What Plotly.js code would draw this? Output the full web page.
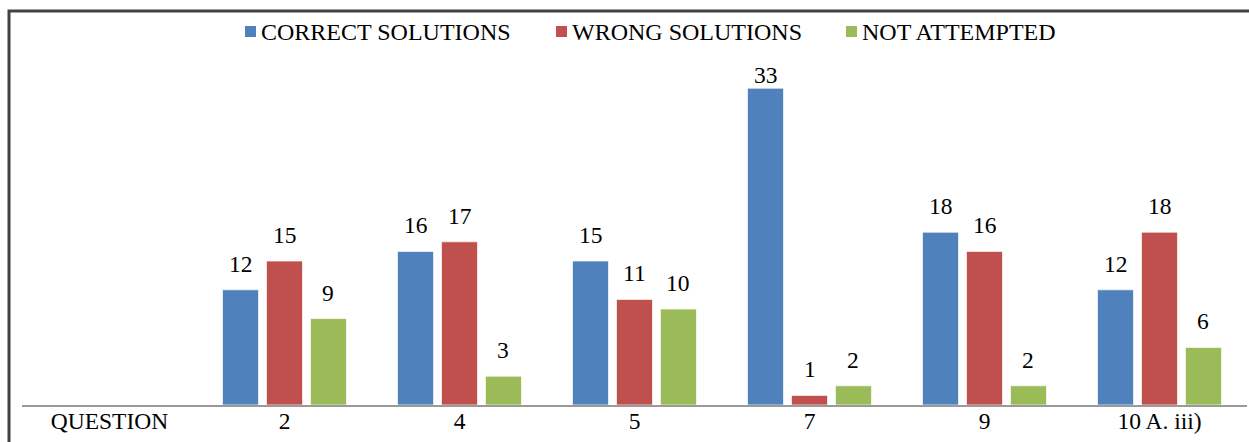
<!DOCTYPE html>
<html>
<head>
<meta charset="utf-8">
<script src="https://cdn.plot.ly/plotly-3.0.1.min.js"></script>
<style>
  html, body { margin: 0; padding: 0; background: #ffffff; }
  #chart { width: 1249px; height: 442px; }
</style>
</head>
<body>
<div id="chart"></div>
<script>
// Question categories (the first slot is the row header and carries no bars)
const axisHeader = 'QUESTION';
const questions = ['2', '4', '5', '7', '9', '10 A. iii)'];

// Number of students per outcome for each question
const correctSolutions = [12, 16, 15, 33, 18, 12];
const wrongSolutions   = [15, 17, 11, 1, 16, 18];
const notAttempted     = [9, 3, 10, 2, 2, 6];

const seriesNames  = ['CORRECT SOLUTIONS', 'WRONG SOLUTIONS', 'NOT ATTEMPTED'];
const seriesColors = ['#4F81BD', '#C0504D', '#9BBB59'];
const seriesValues = [correctSolutions, wrongSolutions, notAttempted];

const categories = [axisHeader].concat(questions);

const W = 1249, H = 442;
const M = { l: 22, r: 2, t: 69, b: 37 };
const plotW = W - M.l - M.r;
const plotH = H - M.t - M.b;
const Y_MAX = 35;
const BARGAP = 0.246;
// pixel -> paper coordinates for decorations placed outside the plot area
const px = x => (x - M.l) / plotW;
const py = y => (H - M.b - y) / plotH;

const FONT = 'Liberation Serif, Tinos, Times New Roman, DejaVu Serif, serif';

const data = seriesValues.map((values, i) => ({
  type: 'bar',
  name: seriesNames[i],
  x: questions,
  y: values,
  marker: { color: seriesColors[i], line: { color: 'rgba(255,255,255,0.7)', width: 1 } },
  hoverinfo: 'skip'
}));

// Value labels above each bar; labels near the top are kept inside the frame
const slotPx = plotW / categories.length * (1 - BARGAP) / seriesValues.length;
const pxPerUnit = plotH / Y_MAX;
const annotations = [];
seriesValues.forEach((values, i) => {
  values.forEach((v, k) => {
    const room = (Y_MAX - v) * pxPerUnit + M.t - 75;
    annotations.push({
      xref: 'x', yref: 'y',
      x: categories.indexOf(questions[k]), y: v,
      xshift: (i - 1) * slotPx,
      yshift: Math.min(26, room),
      xanchor: 'center', yanchor: 'middle',
      text: String(v), showarrow: false,
      font: { family: FONT, size: 23.5, color: '#000000' }
    });
  });
});

// Legend row: colour key squares and their labels
const legendKeys = [
  { sx: 245, tx: 259 },
  { sx: 556, tx: 570 },
  { sx: 846, tx: 860 }
];
const legendY = 31.5;

const shapes = [
  // frame around the chart
  {
    type: 'rect', xref: 'paper', yref: 'paper',
    x0: px(9), x1: px(1262), y0: py(460), y1: py(11),
    line: { color: '#424242', width: 3 }, fillcolor: 'rgba(0,0,0,0)'
  }
];
legendKeys.forEach((k, i) => {
  shapes.push({
    type: 'rect', xref: 'paper', yref: 'paper',
    x0: px(k.sx), x1: px(k.sx + 11),
    y0: py(legendY + 5.5), y1: py(legendY - 5.5),
    line: { width: 0 }, fillcolor: seriesColors[i]
  });
  annotations.push({
    xref: 'paper', yref: 'paper',
    x: px(k.tx), y: py(legendY),
    xanchor: 'left', yanchor: 'middle',
    text: seriesNames[i], showarrow: false,
    font: { family: FONT, size: 24, color: '#000000' }
  });
});

const layout = {
  width: W, height: H,
  margin: M,
  paper_bgcolor: '#ffffff',
  plot_bgcolor: '#ffffff',
  showlegend: false,
  hovermode: false,
  barmode: 'group',
  bargap: BARGAP,
  bargroupgap: 0.18,
  font: { family: FONT, size: 23, color: '#000000' },
  xaxis: {
    type: 'category',
    categoryorder: 'array',
    categoryarray: categories,
    range: [-0.5, categories.length - 0.5],
    showgrid: false,
    zeroline: false,
    showline: true,
    linecolor: '#9a9a9a',
    linewidth: 2,
    ticks: '',
    ticklabelstandoff: -6,
    tickfont: { family: FONT, size: 23.5, color: '#000000' },
    fixedrange: true
  },
  yaxis: {
    range: [0, Y_MAX],
    visible: false,
    showgrid: false,
    zeroline: false,
    fixedrange: true
  },
  shapes: shapes,
  annotations: annotations
};

Plotly.newPlot('chart', data, layout, { displayModeBar: false, staticPlot: true });
</script>
</body>
</html>
